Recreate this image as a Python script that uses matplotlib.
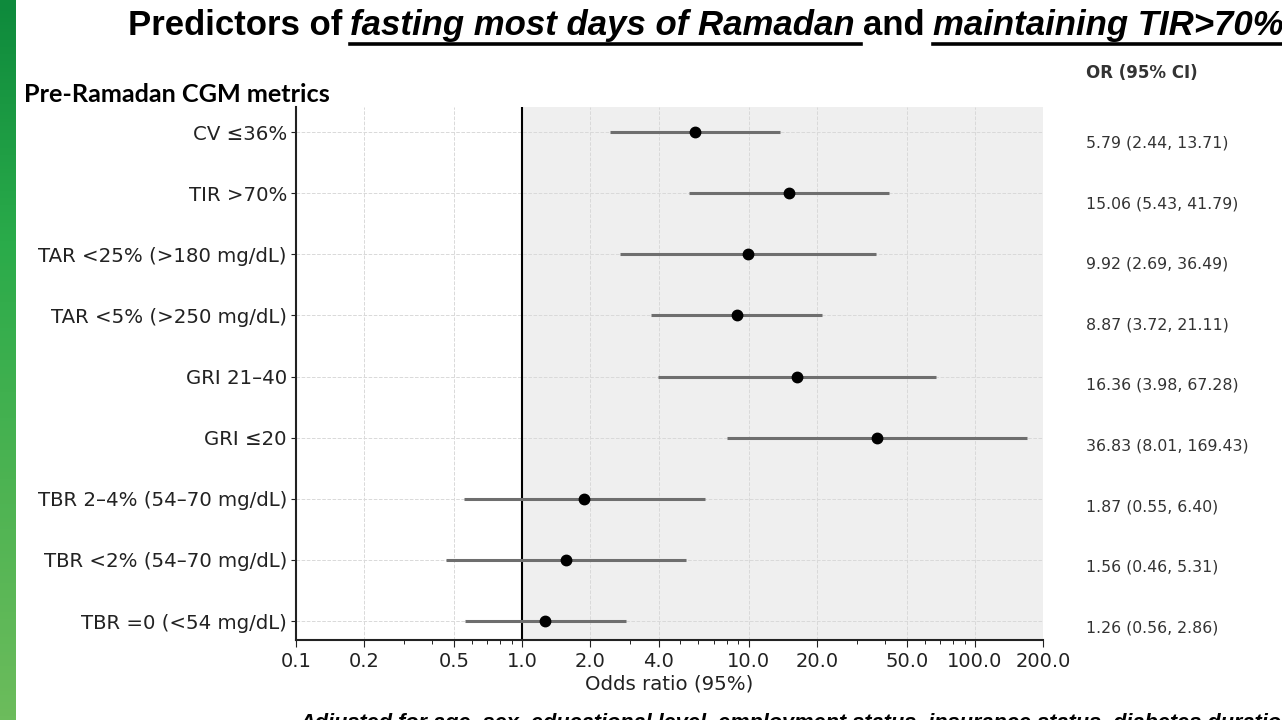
import matplotlib
matplotlib.use("Agg")
import matplotlib.pyplot as plt
import numpy as np
from matplotlib import font_manager
from matplotlib.lines import Line2D
from matplotlib.colors import LinearSegmentedColormap
from matplotlib.transforms import blended_transform_factory

# data (top row first)
metrics = ["CV \u226436%", "TIR >70%", "TAR <25% (>180 mg/dL)", "TAR <5% (>250 mg/dL)",
           "GRI 21\u201340", "GRI \u226420", "TBR 2\u20134% (54\u201370 mg/dL)",
           "TBR <2% (54\u201370 mg/dL)", "TBR =0 (<54 mg/dL)"]
odds = [5.79, 15.06, 9.92, 8.87, 16.36, 36.83, 1.87, 1.56, 1.26]
ci_low = [2.44, 5.43, 2.69, 3.72, 3.98, 8.01, 0.55, 0.46, 0.56]
ci_high = [13.71, 41.79, 36.49, 21.11, 67.28, 169.43, 6.40, 5.31, 2.86]
xticks = [0.1, 0.2, 0.5, 1.0, 2.0, 4.0, 10.0, 20.0, 50.0, 100.0, 200.0]

W, H = 1282, 720
names = {f.name for f in font_manager.fontManager.ttflist}
title_font = "Liberation Sans Narrow" if "Liberation Sans Narrow" in names else "Liberation Sans"
head_font = "Lato" if "Lato" in names else "DejaVu Sans"

fig = plt.figure(figsize=(W / 100, H / 100), dpi=100)
fig.patch.set_facecolor("white")

# green strip on the left of the slide
gax = fig.add_axes([0, 0, 16 / W, 1])
cmap = LinearSegmentedColormap.from_list("g", ["#0e8a3c", "#2aab4a", "#4cb352", "#6cbc5c"])
gax.imshow(np.linspace(0, 1, 200).reshape(-1, 1), aspect="auto", cmap=cmap, extent=[0, 1, 0, 1])
gax.axis("off")

ax = fig.add_axes([296 / W, 1 - 640 / H, (1043 - 296) / W, (640 - 107) / H])
n = len(metrics)
ypos = np.arange(n)[::-1]

ax.axvspan(1, 200, color="#efefef", zorder=0, lw=0)
ax.hlines(ypos, ci_low, ci_high, color="#6e6e6e", lw=2.2, zorder=3)
ax.plot(odds, ypos, "o", color="black", ms=7.5, zorder=4)
ax.axvline(1, color="black", lw=1.5, zorder=2)

ax.set_xscale("log")
ax.set_xlim(0.1, 200)
ax.set_ylim(-0.31, n - 1 + 0.41)
ax.set_xticks(xticks)
ax.set_xticklabels([f"{v:.1f}" for v in xticks])
ax.set_yticks(ypos)
ax.set_yticklabels(metrics)
ax.tick_params(axis="y", labelsize=14.2, colors="#222222", pad=3)
ax.tick_params(axis="x", labelsize=14, colors="#222222")
ax.tick_params(axis="x", which="major", length=5)
ax.tick_params(axis="x", which="minor", length=3)
ax.grid(True, which="major", ls="--", color="#d9d9d9", lw=0.7, zorder=1)
ax.set_axisbelow(True)
for s in ["top", "right"]:
    ax.spines[s].set_visible(False)
for s in ["left", "bottom"]:
    ax.spines[s].set_linewidth(1.5)
    ax.spines[s].set_color("#222222")
ax.set_xlabel("Odds ratio (95%)", fontsize=14.2, color="#222222", labelpad=3)

# OR column
fig.text(1086 / W, 1 - 73 / H, "OR (95% CI)", fontsize=12, fontweight="bold",
         color="#333333", va="center")
col = blended_transform_factory(fig.transFigure, ax.transData)
for y, o, lo, hi in zip(ypos, odds, ci_low, ci_high):
    ax.text(1086 / W, y - (0.11 + 0.07 * y / (n - 1)), f"{o:.2f} ({lo:.2f}, {hi:.2f})",
            fontsize=11.3, color="#333333", va="center", transform=col)

fig.text(24 / W, 1 - 95 / H, "Pre-Ramadan CGM metrics", fontsize=18.2, fontweight="bold",
         family=head_font, color="black", va="center")

# title with underlined italic parts
renderer = fig.canvas.get_renderer()
parts = [("Predictors of", False), ("fasting most days of Ramadan", True),
         ("and", False), ("maintaining TIR>70%", True)]
x = 128
base = 1 - 35 / H
gap = 8
for i, (txt, ul) in enumerate(parts):
    t = fig.text(x / W, base, txt, fontsize=25, fontweight="bold",
                 style="italic" if ul else "normal", family=title_font, va="baseline")
    bb = t.get_window_extent(renderer)
    x_end = bb.x1
    if ul:
        x1 = x_end + (gap - 2 if i < len(parts) - 1 else 0)
        fig.add_artist(Line2D([bb.x0 / W, x1 / W], [1 - 44 / H] * 2,
                              transform=fig.transFigure, color="black", lw=2.6))
    x = x_end + gap

fig.text(299 / W, 1 - 729 / H,
         "Adjusted for age, sex, educational level, employment status, insurance status, diabetes duration",
         fontsize=15.7, fontweight="bold", style="italic", family=title_font, va="baseline")

fig.savefig("out.png", dpi=100)
